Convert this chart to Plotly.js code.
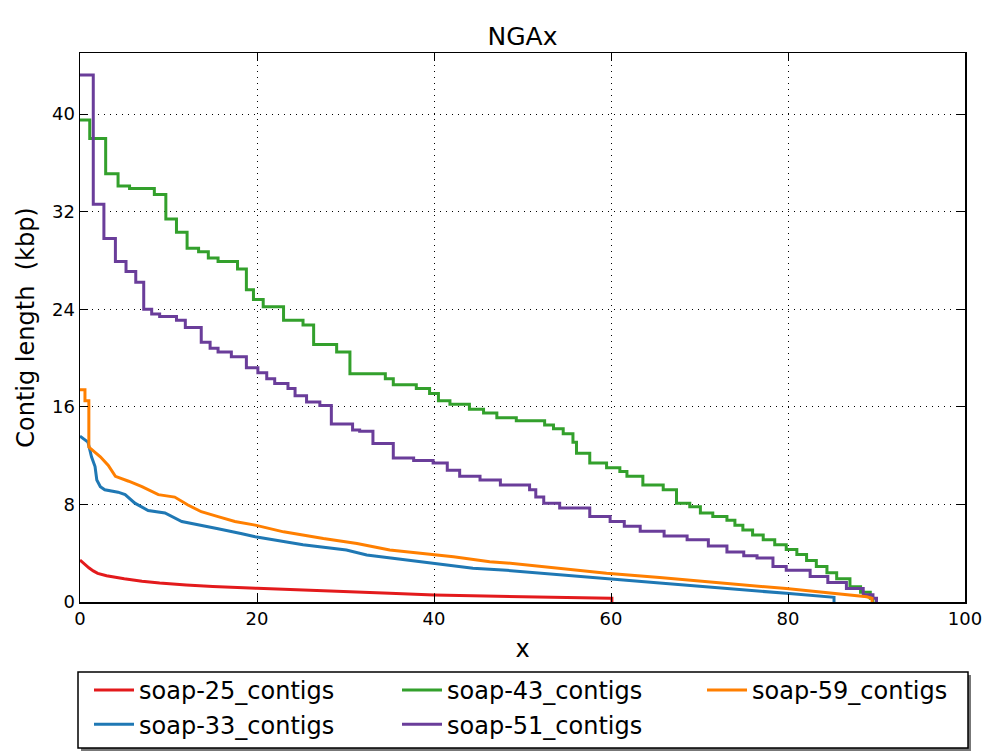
<!DOCTYPE html>
<html>
<head>
<meta charset="utf-8">
<script src="https://cdn.plot.ly/plotly-3.0.1.min.js"></script>
<style>html,body{margin:0;padding:0;background:#fff;}#chart{width:986px;height:756px;}</style>
</head>
<body>
<div id="chart"></div>
<script>
// Series names and colours
const seriesNames = ['soap-25_contigs', 'soap-33_contigs', 'soap-43_contigs', 'soap-51_contigs', 'soap-59_contigs'];
const seriesColors = ['#E31A1C', '#1F78B4', '#33A02C', '#6A3D9A', '#FF7F00'];

// soap-25 (x %, contig length kbp)
const x25 = [0, 0.5, 1, 1.5, 2, 3, 4, 5, 7, 9, 12, 15, 20, 25, 30, 35, 40, 45, 50, 55, 60, 60.1, 60.1];
const y25 = [3.44, 3.1, 2.8, 2.55, 2.35, 2.15, 2.0, 1.9, 1.7, 1.55, 1.4, 1.27, 1.12, 1.0, 0.88, 0.72, 0.57, 0.48, 0.42, 0.36, 0.3, 0.3, 0];

// soap-33
const x33 = [0, 0.9, 1.3, 1.7, 1.9, 2.3, 2.8, 4.3, 5.1, 6.2, 7.7, 9.6, 11.5, 13.4, 15.6, 18.3, 19.8, 25.2, 30.1, 32.4, 36.9, 39.9, 44.4, 48.2, 59.5, 65.5, 79.8, 85.1, 85.2, 85.2];
const y33 = [13.6, 13.1, 11.9, 11.1, 10.0, 9.45, 9.2, 9.0, 8.8, 8.1, 7.5, 7.3, 6.6, 6.3, 6.0, 5.6, 5.35, 4.7, 4.26, 3.85, 3.44, 3.17, 2.76, 2.6, 1.95, 1.55, 0.71, 0.38, 0.38, 0];

// soap-43 (step starts)
const x43 = [0, 1.1, 2.9, 4.3, 5.6, 8.4, 9.7, 10.9, 12.1, 13.4, 14.5, 15.6, 17.8, 18.8, 19.6, 20.7, 23.0, 25.2, 26.4, 29.0, 30.5, 34.5, 35.4, 38.0, 39.5, 40.5, 41.8, 44.0, 45.6, 47.1, 49.3, 52.5, 53.5, 54.6, 55.7, 56.1, 57.6, 59.5, 61.0, 61.8, 63.6, 65.9, 67.4, 68.9, 70.1, 71.5, 73.1, 74.0, 74.9, 76.0, 77.2, 78.5, 79.8, 81.0, 82.1, 83.2, 84.4, 85.5, 87.0, 88.2, 89.3, 89.6];
const y43 = [39.5, 38.0, 35.1, 34.1, 33.9, 33.4, 31.4, 30.3, 29.0, 28.7, 28.2, 27.9, 27.3, 25.6, 24.8, 24.2, 23.1, 22.7, 21.1, 20.5, 18.7, 18.3, 17.8, 17.5, 17.1, 16.5, 16.2, 15.8, 15.5, 15.1, 14.85, 14.5, 14.2, 13.8, 13.1, 12.2, 11.4, 11.0, 10.7, 10.3, 9.6, 9.2, 8.1, 7.8, 7.3, 7.0, 6.7, 6.3, 5.9, 5.5, 5.1, 4.7, 4.3, 3.9, 3.4, 2.9, 2.4, 1.9, 1.25, 0.8, 0.3, 0];

// soap-51 (step starts)
const x51 = [0, 1.5, 2.7, 4.0, 5.2, 6.3, 7.2, 8.1, 9.0, 10.9, 11.9, 13.7, 14.7, 15.6, 17.1, 18.8, 20.1, 21.1, 22.0, 23.5, 24.3, 25.6, 27.1, 28.4, 30.8, 31.6, 33.1, 35.4, 37.7, 39.9, 41.5, 42.9, 45.2, 47.5, 50.8, 51.5, 52.4, 54.2, 57.6, 59.9, 61.5, 63.3, 66.0, 68.6, 71.0, 73.1, 75.0, 76.5, 78.3, 79.8, 82.5, 84.5, 86.6, 88.5, 89.6, 90.0];
const y51 = [43.2, 32.6, 29.8, 27.9, 27.1, 26.2, 24.0, 23.6, 23.4, 23.1, 22.5, 21.3, 20.8, 20.5, 20.1, 19.2, 18.8, 18.3, 17.9, 17.5, 16.9, 16.4, 16.1, 14.6, 14.1, 14.0, 13.0, 11.8, 11.6, 11.4, 10.8, 10.3, 10.0, 9.6, 9.2, 8.6, 8.1, 7.7, 7.0, 6.6, 6.2, 5.8, 5.4, 5.1, 4.6, 4.1, 3.8, 3.6, 2.9, 2.6, 2.1, 1.6, 1.1, 0.6, 0.3, 0];

// soap-59
const x59 = [0, 0.56, 0.56, 1.0, 1.0, 1.7, 2.3, 3.2, 4.0, 5.5, 7.0, 8.85, 10.7, 12.2, 13.7, 15.6, 17.5, 19.8, 23, 27.5, 31.3, 35, 39.5, 42.2, 46.3, 48.2, 59.5, 65.5, 79.8, 88.9, 89.5, 89.5];
const y59 = [17.4, 17.4, 16.5, 16.5, 12.7, 12.3, 11.9, 11.2, 10.3, 9.9, 9.45, 8.8, 8.6, 7.95, 7.4, 7.0, 6.6, 6.3, 5.75, 5.2, 4.8, 4.26, 3.9, 3.7, 3.3, 3.2, 2.35, 2.0, 1.1, 0.43, 0.3, 0];

const yTicks = [0, 8, 16, 24, 32, 40];
const xTicks = [0, 20, 40, 60, 80, 100];

const xs = [x25, x33, x43, x51, x59];
const ys = [y25, y33, y43, y51, y59];
const shapesLine = ['linear', 'linear', 'hv', 'hv', 'linear'];
const legendGroups = ['legend', 'legend', 'legend2', 'legend2', 'legend3'];

const FONT = 'DejaVu Sans, Liberation Sans, sans-serif';

const traces = seriesNames.map((n, i) => ({
  type: 'scatter', mode: 'lines', name: n,
  x: xs[i], y: ys[i],
  line: {color: seriesColors[i], width: 3, shape: shapesLine[i]},
  legend: legendGroups[i]
}));

const W = 885, H = 549;
const px2x = p => (p - 80) / W;
const py2y = p => (602 - p) / H;

function legendAt(lineStartPx) {
  return {
    orientation: 'v', xref: 'paper', yref: 'container',
    x: px2x(lineStartPx - 5), xanchor: 'left', y: 1 - 668 / 756, yanchor: 'top',
    bgcolor: 'rgba(0,0,0,0)', borderwidth: 0,
    font: {size: 24, family: FONT}, itemwidth: 40, traceorder: 'normal',
    tracegroupgap: 0
  };
}

const layout = {
  width: 986, height: 756,
  margin: {l: 80, r: 21, t: 53, b: 154},
  paper_bgcolor: '#fff', plot_bgcolor: '#fff',
  font: {family: FONT, color: '#000', size: 18},
  title: {text: 'NGAx', font: {size: 25, family: FONT}, x: 0.5, xref: 'paper', y: 1 - 36/756, yanchor: 'middle'},
  xaxis: {
    range: [0, 100], tickvals: xTicks, ticktext: xTicks.map(String),
    ticks: 'inside', ticklen: 8, tickcolor: '#000', tickwidth: 1,
    showline: true, linecolor: '#000', linewidth: 1.5, mirror: 'ticks',
    showgrid: true, gridcolor: '#000', gridwidth: 1, griddash: '1px,5px',
    zeroline: false, tickfont: {size: 18},
    title: {text: 'x', font: {size: 24}, standoff: 12}
  },
  yaxis: {
    range: [0, 45], tickvals: yTicks, ticktext: yTicks.map(String),
    ticks: 'inside', ticklen: 8, tickcolor: '#000', tickwidth: 1,
    showline: true, linecolor: '#000', linewidth: 1.5, mirror: 'ticks',
    showgrid: true, gridcolor: '#000', gridwidth: 1, griddash: '1px,5px',
    zeroline: false, tickfont: {size: 18},
    title: {text: 'Contig length\u00a0 (kbp)', font: {size: 24}, standoff: 10}
  },
  showlegend: true,
  legend: legendAt(94),
  legend2: legendAt(402),
  legend3: legendAt(707),
  shapes: [
    {type: 'rect', xref: 'paper', yref: 'paper', x0: px2x(81), x1: px2x(971), y0: py2y(751), y1: py2y(675),
     line: {width: 0}, fillcolor: '#777', layer: 'above'},
    {type: 'rect', xref: 'paper', yref: 'paper', x0: px2x(78), x1: px2x(968), y0: py2y(748), y1: py2y(672),
     line: {color: '#000', width: 1.5}, fillcolor: '#fff', layer: 'above'}
  ]
};

Plotly.newPlot('chart', traces, layout, {displayModeBar: false, staticPlot: true});
</script>
</body>
</html>
